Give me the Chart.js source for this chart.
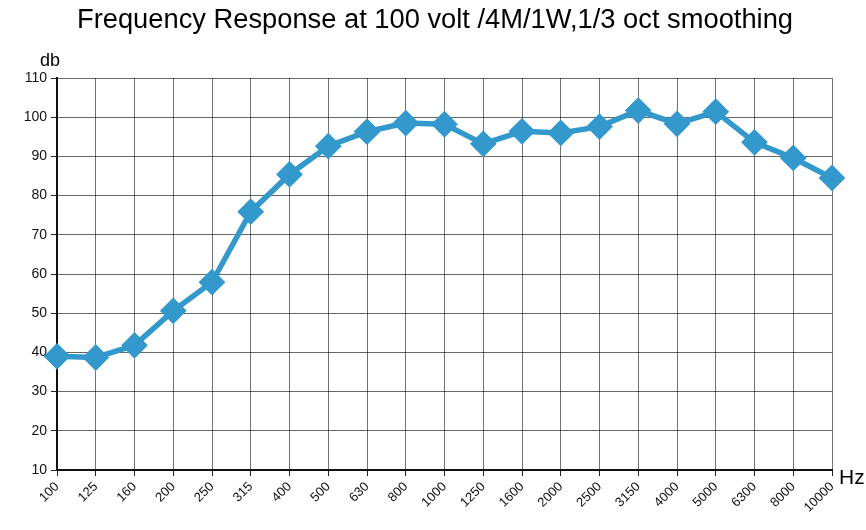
<!DOCTYPE html>
<html>
<head>
<meta charset="utf-8">
<script src="https://cdn.jsdelivr.net/npm/chart.js@4"></script>
<style>
  html, body { margin: 0; padding: 0; background: #fff; }
  #wrap { width: 866px; height: 530px; position: relative; }
</style>
</head>
<body>
<div id="wrap"><canvas id="chart" width="866" height="530"></canvas></div>
<script>
const freqLabels = ['100', '125', '160', '200', '250', '315', '400', '500', '630', '800', '1000',
    '1250', '1600', '2000', '2500', '3150', '4000', '5000', '6300', '8000', '10000'];
const dbValues = [39.0, 38.7, 41.8, 50.6, 57.9, 75.9, 85.4, 92.6, 96.3, 98.5, 98.2,
    93.2, 96.4, 96.0, 97.6, 101.7, 98.3, 101.4, 93.6, 89.6, 84.5];

const titleText = 'Frequency Response at 100 volt /4M/1W,1/3 oct smoothing';
const yUnit = 'db';
const xUnit = 'Hz';

const lineColor = '#3399cc';
const sans = '"Liberation Sans", Arial, sans-serif';

// title and unit labels drawn straight onto the canvas
const extraText = {
    id: 'extraText',
    afterDraw(chart) {
        const ctx = chart.ctx;
        const area = chart.chartArea;
        ctx.save();
        ctx.fillStyle = '#000';
        ctx.textBaseline = 'middle';

        // title in the original is a condensed face, fit it to the same width
        ctx.font = '27px ' + sans;
        const w = ctx.measureText(titleText).width;
        const sx = 716 / w;
        ctx.save();
        ctx.translate(435, 21);
        ctx.scale(sx, 1);
        ctx.textAlign = 'center';
        ctx.fillText(titleText, 0, 0);
        ctx.restore();

        ctx.textAlign = 'left';
        ctx.font = '18px ' + sans;
        ctx.fillText(yUnit, 40, 61);
        ctx.font = '21px ' + sans;
        ctx.fillText(xUnit, area.right + 7, area.bottom + 8);
        ctx.restore();
    }
};

const ctx = document.getElementById('chart').getContext('2d');
new Chart(ctx, {
    type: 'line',
    data: {
        labels: freqLabels,
        datasets: [{
            data: dbValues,
            borderColor: lineColor,
            backgroundColor: lineColor,
            borderWidth: 5.5,
            pointStyle: 'rectRot',
            pointRadius: 9.5,
            pointHoverRadius: 9.5,
            tension: 0
        }]
    },
    options: {
        responsive: false,
        animation: false,
        layout: { padding: { top: 78, right: 34, left: 0, bottom: 0 } },
        plugins: {
            legend: { display: false },
            tooltip: { enabled: false }
        },
        scales: {
            x: {
                offset: false,
                afterFit: (s) => { s.height = 60; },
                grid: { color: 'rgba(0,0,0,0.55)', lineWidth: 1, tickLength: 6, tickColor: '#222' },
                border: { color: '#111', width: 2 },
                ticks: {
                    color: '#111',
                    maxRotation: 45,
                    minRotation: 45,
                    autoSkip: false,
                    padding: 3,
                    font: { family: sans, size: 13 }
                }
            },
            y: {
                min: 10,
                max: 110,
                afterFit: (s) => { s.width = 57; },
                grid: { color: 'rgba(0,0,0,0.6)', lineWidth: 1, tickLength: 6, tickColor: '#222' },
                border: { color: '#111', width: 2 },
                ticks: {
                    stepSize: 10,
                    color: '#111',
                    padding: 4,
                    font: { family: sans, size: 14 }
                }
            }
        }
    },
    plugins: [extraText]
});
</script>
</body>
</html>
